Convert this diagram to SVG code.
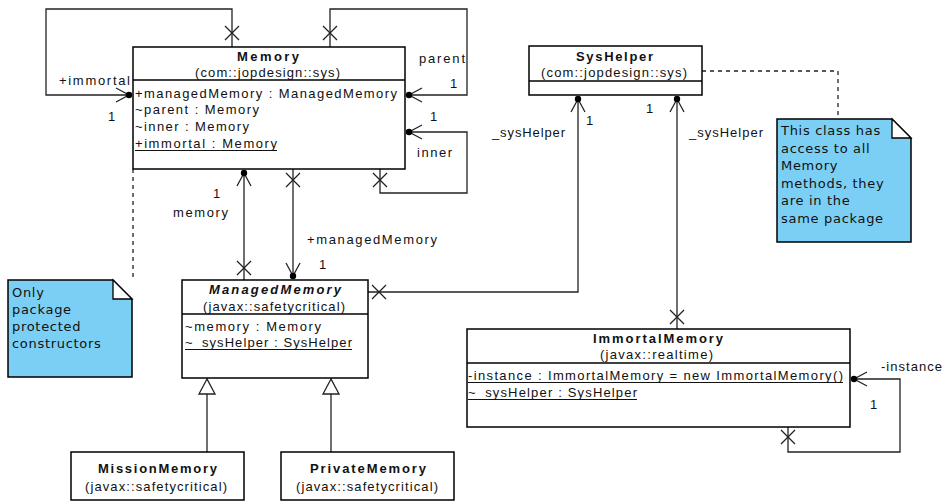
<svg xmlns="http://www.w3.org/2000/svg" width="947" height="502" viewBox="0 0 947 502">
<style>
.box{fill:#fff;stroke:#000;stroke-width:1.5}
.div{stroke:#000;stroke-width:1.3}
.ul{stroke:#111;stroke-width:1}
.ln{fill:none;stroke:#222;stroke-width:1.3}
.dash{fill:none;stroke:#222;stroke-width:1.3;stroke-dasharray:4,4}
.x{stroke:#222;stroke-width:1.3;fill:none}
.dot{fill:#000}
.tri{fill:#fff;stroke:#222;stroke-width:1.3}
.note{fill:#7ccff4;stroke:#000;stroke-width:1.5}
.fold{fill:#fff;stroke:#000;stroke-width:1.3}
text{font-family:"Liberation Sans",Arial,sans-serif;font-size:13px;fill:#111}
.t{font-weight:bold;text-anchor:middle}
.c{text-anchor:middle}
.i{font-style:italic}
.n{font-family:"DejaVu Sans",sans-serif;font-size:13px;letter-spacing:0.7px}
</style>

<g id="connectors">
  <!-- immortal self loop -->
  <path class="ln" d="M232,47 V9 H46 V95 H129"/>
  <path class="x" d="M225,26 L239,40 M239,26 L225,40"/>
  <path class="ln" d="M116,88 L129,95 L116,102"/>
  <circle class="dot" cx="129" cy="95" r="3.2"/>
  <!-- parent self loop -->
  <path class="ln" d="M330,47 V9 H467 V95 H409"/>
  <path class="x" d="M323,26 L337,40 M337,26 L323,40"/>
  <path class="ln" d="M422,88 L409,95 L422,102"/>
  <circle class="dot" cx="409" cy="95" r="3.2"/>
  <!-- inner self loop -->
  <path class="ln" d="M409,132 H467 V193 H380 V169"/>
  <path class="x" d="M373,173 L387,187 M387,173 L373,187"/>
  <path class="ln" d="M422,125 L409,132 L422,139"/>
  <circle class="dot" cx="409" cy="132" r="3.2"/>
  <!-- memory -->
  <path class="ln" d="M244,173 V280"/>
  <path class="ln" d="M237,186 L244,173 L251,186"/>
  <circle class="dot" cx="244" cy="173" r="3.2"/>
  <path class="x" d="M237,261 L251,275 M251,261 L237,275"/>
  <!-- managedMemory -->
  <path class="ln" d="M293,169 V276"/>
  <path class="x" d="M286,173 L300,187 M300,173 L286,187"/>
  <path class="ln" d="M286,263 L293,276 L300,263"/>
  <circle class="dot" cx="293" cy="276" r="3.2"/>
  <!-- ManagedMemory to SysHelper -->
  <path class="ln" d="M368,292 H578 V99"/>
  <path class="x" d="M372,285 L386,299 M386,285 L372,299"/>
  <path class="ln" d="M571,112 L578,99 L585,112"/>
  <circle class="dot" cx="578" cy="99" r="3.2"/>
  <!-- ImmortalMemory to SysHelper -->
  <path class="ln" d="M677,99 V329"/>
  <path class="ln" d="M670,112 L677,99 L684,112"/>
  <circle class="dot" cx="677" cy="99" r="3.2"/>
  <path class="x" d="M670,310 L684,324 M684,310 L670,324"/>
  <!-- instance self loop -->
  <path class="ln" d="M854,379 H900 V452 H788 V427"/>
  <path class="ln" d="M867,372 L854,379 L867,386"/>
  <circle class="dot" cx="854" cy="379" r="3.2"/>
  <path class="x" d="M781,430 L795,444 M795,430 L781,444"/>
  <!-- generalizations -->
  <path class="ln" d="M207,452 V394"/>
  <path class="tri" d="M207,379 L199,394 L215,394 Z"/>
  <path class="ln" d="M331,452 V394"/>
  <path class="tri" d="M331,379 L323,394 L339,394 Z"/>
  <!-- note links -->
  <path class="dash" d="M702,71 H838 V119"/>
  <path class="dash" d="M133,169 V280"/>
  <!-- labels -->
  <text x="59" y="85" textLength="71" lengthAdjust="spacing">+immortal</text>
  <text x="108" y="121">1</text>
  <text x="419" y="63" textLength="46" lengthAdjust="spacing">parent</text>
  <text x="450" y="88">1</text>
  <text x="430" y="121">1</text>
  <text x="417" y="157" textLength="35" lengthAdjust="spacing">inner</text>
  <text x="213" y="198">1</text>
  <text x="173" y="217" textLength="55" lengthAdjust="spacing">memory</text>
  <text x="307" y="244" textLength="130" lengthAdjust="spacing">+managedMemory</text>
  <text x="319" y="269">1</text>
  <text x="492" y="137" textLength="73" lengthAdjust="spacing">_sysHelper</text>
  <text x="586" y="125">1</text>
  <text x="646" y="113">1</text>
  <text x="689" y="137" textLength="74" lengthAdjust="spacing">_sysHelper</text>
  <text x="881" y="371" textLength="61" lengthAdjust="spacing">-instance</text>
  <text x="870" y="409">1</text>
</g>

<g id="Memory">
  <rect class="box" x="133" y="47" width="272" height="122"/>
  <line class="div" x1="133" y1="80" x2="405" y2="80"/>
  <text class="t" x="268" y="61" textLength="62" lengthAdjust="spacing">Memory</text>
  <text class="c" x="267.5" y="77" textLength="145" lengthAdjust="spacing">(com::jopdesign::sys)</text>
  <text x="135" y="98" textLength="262" lengthAdjust="spacing">+managedMemory : ManagedMemory</text>
  <text x="135" y="114" textLength="124" lengthAdjust="spacing">~parent : Memory</text>
  <text x="135" y="131" textLength="114" lengthAdjust="spacing">~inner : Memory</text>
  <text x="135" y="148" textLength="142" lengthAdjust="spacing">+immortal : Memory</text>
  <line class="ul" x1="135" y1="150.5" x2="277" y2="150.5"/>
</g>

<g id="ManagedMemory">
  <rect class="box" x="182" y="280" width="186" height="98"/>
  <line class="div" x1="182" y1="314" x2="368" y2="314"/>
  <text class="t i" x="275" y="294" textLength="132" lengthAdjust="spacing">ManagedMemory</text>
  <text class="c" x="274" y="311" textLength="142" lengthAdjust="spacing">(javax::safetycritical)</text>
  <text x="185" y="331" textLength="136" lengthAdjust="spacing">~memory : Memory</text>
  <text x="185" y="347" textLength="167" lengthAdjust="spacing">~_sysHelper : SysHelper</text>
  <line class="ul" x1="185" y1="349.5" x2="352" y2="349.5"/>
</g>

<g id="SysHelper">
  <rect class="box" x="529" y="46" width="173" height="49"/>
  <line class="div" x1="529" y1="81" x2="702" y2="81"/>
  <text class="t" x="614.5" y="61" textLength="77" lengthAdjust="spacing">SysHelper</text>
  <text class="c" x="614" y="77" textLength="146" lengthAdjust="spacing">(com::jopdesign::sys)</text>
</g>

<g id="ImmortalMemory">
  <rect class="box" x="467" y="329" width="383" height="98"/>
  <line class="div" x1="467" y1="363" x2="850" y2="363"/>
  <text class="t" x="658" y="343" textLength="130" lengthAdjust="spacing">ImmortalMemory</text>
  <text class="c" x="656.5" y="359" textLength="113" lengthAdjust="spacing">(javax::realtime)</text>
  <text x="468" y="380" textLength="375" lengthAdjust="spacing">-instance : ImmortalMemory = new ImmortalMemory()</text>
  <line class="ul" x1="468" y1="382.5" x2="843" y2="382.5"/>
  <text x="468" y="397" textLength="169" lengthAdjust="spacing">~_sysHelper : SysHelper</text>
  <line class="ul" x1="468" y1="399.5" x2="637" y2="399.5"/>
</g>

<g id="MissionMemory">
  <rect class="box" x="71" y="452" width="173" height="48"/>
  <text class="t" x="157.5" y="473" textLength="119" lengthAdjust="spacing">MissionMemory</text>
  <text class="c" x="156" y="491" textLength="142" lengthAdjust="spacing">(javax::safetycritical)</text>
</g>

<g id="PrivateMemory">
  <rect class="box" x="281" y="452" width="173" height="48"/>
  <text class="t" x="368" y="473" textLength="116" lengthAdjust="spacing">PrivateMemory</text>
  <text class="c" x="367" y="491" textLength="142" lengthAdjust="spacing">(javax::safetycritical)</text>
</g>

<g id="note-syshelper">
  <path class="note" d="M777,119 H892 L911,138 V242 H777 Z"/>
  <path class="fold" d="M892,119 V138 H911 Z"/>
  <text class="n" x="781" y="135">This class has</text>
  <text class="n" x="781" y="153">access to all</text>
  <text class="n" x="781" y="170">Memory</text>
  <text class="n" x="781" y="188">methods, they</text>
  <text class="n" x="781" y="205">are in the</text>
  <text class="n" x="781" y="223">same package</text>
</g>

<g id="note-memory">
  <path class="note" d="M8,280 H113 L132,299 V377 H8 Z"/>
  <path class="fold" d="M113,280 V299 H132 Z"/>
  <text class="n" x="12" y="297">Only</text>
  <text class="n" x="12" y="314">package</text>
  <text class="n" x="12" y="331">protected</text>
  <text class="n" x="12" y="348">constructors</text>
</g>
</svg>
